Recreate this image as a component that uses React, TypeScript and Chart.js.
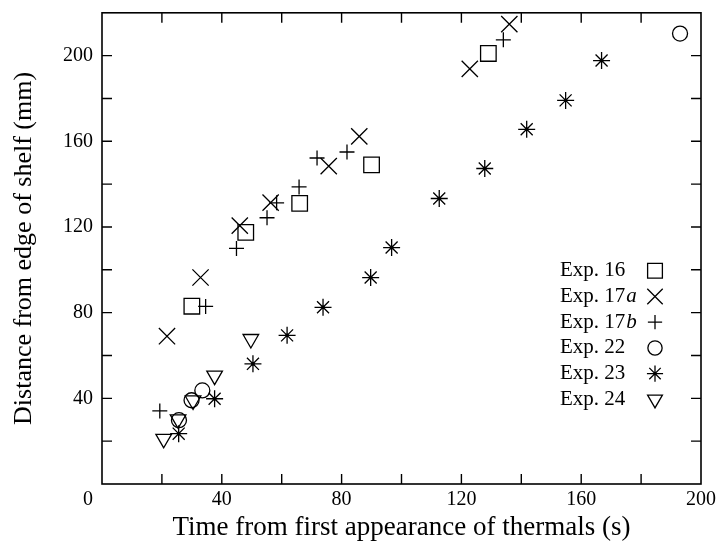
import React, { useEffect, useRef } from "react";
import { Chart, registerables } from "chart.js";
import { drawPoint } from "chart.js/helpers";

Chart.register(...registerables);

// ---- Data ----
const exp16X = [30, 48, 66, 90, 129];
const exp16Y = [83, 117.5, 131, 149, 201];

const exp17aX = [21.7, 32.9, 46, 56.3, 75.7, 85.9, 122.8, 136];
const exp17aY = [69, 96.4, 120.6, 131.4, 148.4, 162.3, 193.8, 214.7];

const exp17bX = [19.3, 34.6, 44.9, 55.1, 58.3, 65.8, 71.8, 81.8, 134];
const exp17bY = [34.1, 82.9, 110, 124.3, 131.3, 138.7, 152.2, 155, 207.4];

const exp22X = [25.7, 29.9, 33.5, 193];
const exp22Y = [29.8, 39.1, 43.7, 210.3];

const exp23X = [25.6, 37.6, 50.4, 61.8, 73.8, 89.7, 96.7, 112.6, 127.8, 141.8, 154.8, 166.8];
const exp23Y = [23.5, 39.8, 56.1, 69.4, 82.5, 96.4, 110.4, 133.3, 147.3, 165.6, 179.1, 197.7];

const exp24X = [20.6, 25.4, 30.4, 37.6, 49.7];
const exp24Y = [21.1, 30.2, 39, 50.6, 67.7];

const seriesNames = ["Exp. 16", "Exp. 17a", "Exp. 17b", "Exp. 22", "Exp. 23", "Exp. 24"];

const xMin = 0;
const xMax = 200;
const yMin = 0;
const yMax = 220;
const minorStep = 20;
const labelStep = 40;

const xTitle = "Time from first appearance of thermals (s)";
const yTitle = "Distance from edge of shelf (mm)";
const originLabel = "0";

const FONT = "'Liberation Serif', 'Times New Roman', serif";

function pts(xs: number[], ys: number[]) {
  return xs.map((x, i) => ({ x, y: ys[i] }));
}

const styles = [
  { pointStyle: "rect", radius: 11, rotation: 0 },
  { pointStyle: "crossRot", radius: 11.5, rotation: 0 },
  { pointStyle: "cross", radius: 7.5, rotation: 0 },
  { pointStyle: "circle", radius: 7.5, rotation: 0 },
  { pointStyle: "star", radius: 8.5, rotation: 0 },
  { pointStyle: "triangle", radius: 9, rotation: 180 },
];
const STAR_INDEX = 4;

const frameAndLegend = {
  id: "frameAndLegend",
  afterDraw(chart: any) {
    const { ctx, chartArea } = chart;
    const xs = chart.scales.x;
    const ys = chart.scales.y;
    const { left, right, top, bottom } = chartArea;
    ctx.save();
    ctx.strokeStyle = "#000";
    ctx.lineWidth = 1.6;
    ctx.strokeRect(left, top, right - left, bottom - top);
    ctx.lineWidth = 1.4;
    const tl = 10;
    ctx.beginPath();
    for (let v = xMin + minorStep; v < xMax; v += minorStep) {
      const px = xs.getPixelForValue(v);
      ctx.moveTo(px, bottom);
      ctx.lineTo(px, bottom - tl);
      ctx.moveTo(px, top);
      ctx.lineTo(px, top + tl);
    }
    for (let v = yMin + minorStep; v < yMax; v += minorStep) {
      const py = ys.getPixelForValue(v);
      ctx.moveTo(left, py);
      ctx.lineTo(left + tl, py);
      ctx.moveTo(right, py);
      ctx.lineTo(right - tl, py);
    }
    ctx.stroke();

    // centre dots of the star markers
    ctx.fillStyle = "#000";
    const meta = chart.getDatasetMeta(STAR_INDEX);
    meta.data.forEach((el: any) => {
      ctx.beginPath();
      ctx.arc(el.x, el.y, 1.8, 0, Math.PI * 2);
      ctx.fill();
    });

    // origin label
    ctx.font = `20px ${FONT}`;
    ctx.textAlign = "center";
    ctx.textBaseline = "middle";
    ctx.fillText(originLabel, left - 14, bottom + 16);

    // legend
    const textX = right - 141;
    const markX = right - 46;
    const y0 = top + 258;
    const dy = 25.7;
    seriesNames.forEach((name, i) => {
      const y = y0 + i * dy;
      ctx.fillStyle = "#000";
      ctx.textAlign = "left";
      ctx.textBaseline = "middle";
      const m = name.match(/^(.*\d)([ab])$/);
      if (m) {
        ctx.font = `21px ${FONT}`;
        ctx.fillText(m[1], textX, y);
        const w = ctx.measureText(m[1]).width;
        ctx.font = `italic 21px ${FONT}`;
        ctx.fillText(m[2], textX + w + 1, y);
      } else {
        ctx.font = `21px ${FONT}`;
        ctx.fillText(name, textX, y);
      }
      const st = styles[i];
      ctx.lineWidth = 1.3;
      ctx.strokeStyle = "#000";
      ctx.fillStyle = "rgba(0,0,0,0)";
      drawPoint(ctx, { pointStyle: st.pointStyle, rotation: st.rotation, radius: st.radius * 0.95, borderWidth: 1.3 } as any, markX, y);
    });
    ctx.restore();
  },
};

export default function App() {
  const ref = useRef<HTMLCanvasElement>(null);
  useEffect(() => {
    if (!ref.current) return;
    Chart.defaults.font.family = FONT;
    Chart.defaults.color = "#000";
    const all = [
      pts(exp16X, exp16Y),
      pts(exp17aX, exp17aY),
      pts(exp17bX, exp17bY),
      pts(exp22X, exp22Y),
      pts(exp23X, exp23Y),
      pts(exp24X, exp24Y),
    ];
    const chart = new Chart(ref.current, {
      type: "scatter",
      data: {
        datasets: all.map((d, i) => ({
          label: seriesNames[i],
          data: d,
          pointStyle: styles[i].pointStyle as any,
          pointRadius: styles[i].radius,
          pointRotation: styles[i].rotation,
          pointBorderWidth: 1.3,
          borderColor: "#000",
          pointBorderColor: "#000",
          pointBackgroundColor: "rgba(0,0,0,0)",
          backgroundColor: "rgba(0,0,0,0)",
        })),
      },
      options: {
        animation: false,
        responsive: true,
        maintainAspectRatio: false,
        events: [],
        layout: { padding: { top: 10, right: 16, left: 0, bottom: 0 } },
        plugins: {
          legend: { display: false },
          tooltip: { enabled: false },
        },
        scales: {
          x: {
            type: "linear",
            min: xMin,
            max: xMax,
            grid: { display: false, drawTicks: false },
            border: { display: false },
            ticks: {
              stepSize: labelStep,
              padding: 4,
              maxRotation: 0,
              font: { size: 20, family: FONT },
              color: "#000",
              callback: (v: any) => (v === xMin ? "" : String(v)),
            },
            title: {
              display: true,
              text: xTitle,
              font: { size: 27, family: FONT },
              color: "#000",
              padding: { top: 0, bottom: 5 },
            },
            afterFit: (s: any) => {
              s.height = 65;
              s.paddingLeft = 0;
              s.paddingRight = 0;
            },
          },
          y: {
            type: "linear",
            min: yMin,
            max: yMax,
            grid: { display: false, drawTicks: false },
            border: { display: false },
            ticks: {
              stepSize: labelStep,
              padding: 9,
              font: { size: 20, family: FONT },
              color: "#000",
              callback: (v: any) => (v === yMin || v === yMax ? "" : String(v)),
            },
            title: {
              display: true,
              text: yTitle,
              font: { size: 26, family: FONT },
              color: "#000",
              padding: { top: 9, bottom: 0 },
            },
            afterFit: (s: any) => {
              s.width = 102;
              s.paddingTop = 0;
              s.paddingBottom = 0;
            },
          },
        },
      },
      plugins: [frameAndLegend],
    });
    return () => chart.destroy();
  }, []);
  return (
    <div style={{ position: "absolute", left: 0, top: 0, width: 717, height: 549, background: "#fff" }}>
      <canvas ref={ref} />
    </div>
  );
}
